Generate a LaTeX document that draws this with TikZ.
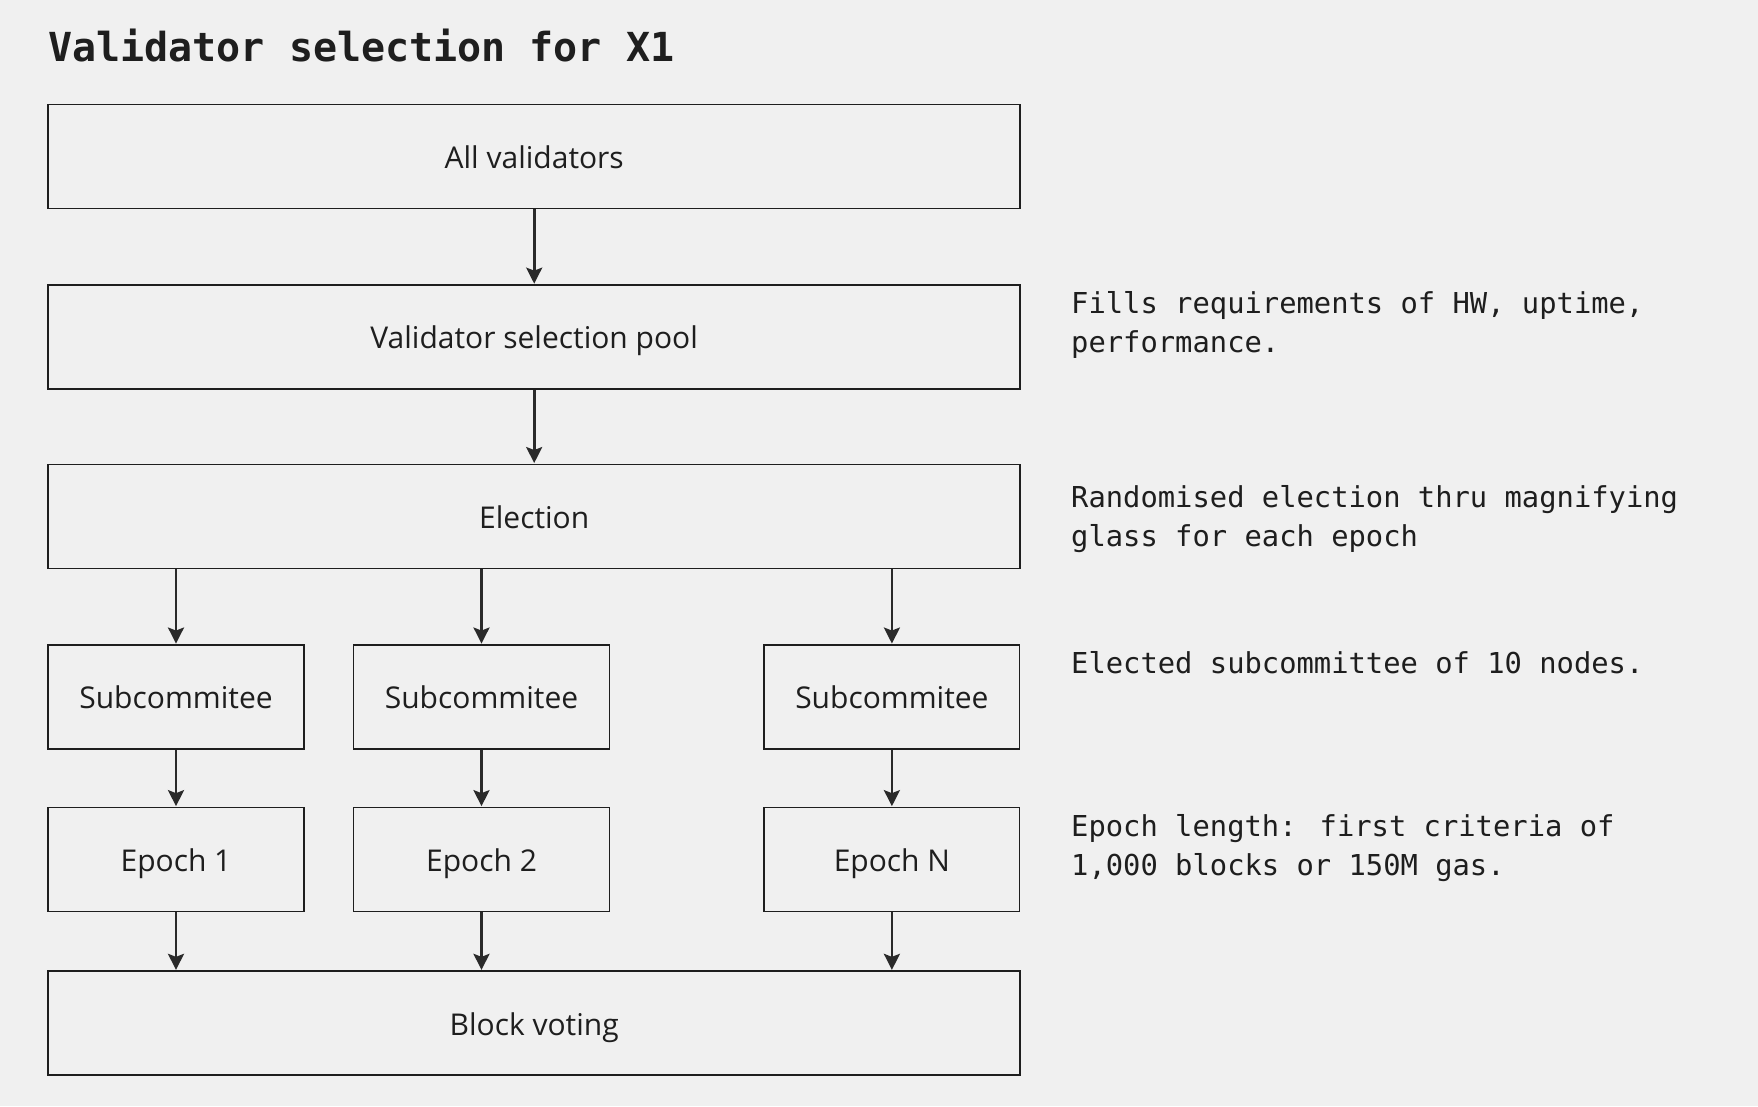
\documentclass[tikz,border=0pt]{standalone}
\usepackage{fontspec}
\setmainfont{Open Sans}
\newfontfamily\notefont{DejaVu Sans Mono}
\usetikzlibrary{arrows.meta}
\definecolor{bg}{HTML}{F0F0F0}
\definecolor{ink}{HTML}{1E1E1E}
\definecolor{arrowc}{HTML}{2A2A2A}
\tikzset{
  box/.style={draw=ink, line width=1.5pt, fill=bg, rectangle, inner sep=0pt,
    minimum height=104pt, text=ink, font=\fontsize{30}{36}\selectfont,
    text height=26pt, text depth=2pt},
  widebox/.style={box, minimum width=972pt},
  smallbox/.style={box, minimum width=255.6pt},
  arr/.style={draw=arrowc, line width=2.7pt, -{Stealth[length=16pt,width=16pt,inset=3pt]}, shorten >=0.5pt},
  note/.style={anchor=base west, inner sep=0pt, text=ink, font=\notefont\fontsize{28.8}{39}\selectfont},
  titlestyle/.style={anchor=base west, inner sep=0pt, text=ink, font=\notefont\bfseries\fontsize{40}{48}\selectfont}
}
\begin{document}
\begin{tikzpicture}[x=1pt,y=-1pt]
\useasboundingbox[fill=bg] (0,0) rectangle (1758,1106);
\node[titlestyle] (title) at (48,61.7) {Validator selection for X1};

\node[widebox] (all) at (534.2,156.4) {All validators};
\node[widebox] (pool) at (534.2,336.9) {Validator selection pool};
\node[widebox] (el) at (534.2,516.3) {Election};

\node[smallbox] (s1) at (176,696.8) {Subcommitee};
\node[smallbox] (s2) at (481.5,696.8) {Subcommitee};
\node[smallbox] (s3) at (891.9,696.8) {Subcommitee};

\node[smallbox] (e1) at (176,859.4) {Epoch 1};
\node[smallbox] (e2) at (481.5,859.4) {Epoch 2};
\node[smallbox] (e3) at (891.9,859.4) {Epoch N};

\node[widebox] (blk) at (534.2,1023.1) {Block voting};

\draw[arr] (all.south) -- (pool.north);
\draw[arr] (pool.south) -- (el.north);
\draw[arr] (s1 |- el.south) -- (s1.north);
\draw[arr] (s2 |- el.south) -- (s2.north);
\draw[arr] (s3 |- el.south) -- (s3.north);
\draw[arr] (s1.south) -- (e1.north);
\draw[arr] (s2.south) -- (e2.north);
\draw[arr] (s3.south) -- (e3.north);
\draw[arr] (e1.south) -- (e1 |- blk.north);
\draw[arr] (e2.south) -- (e2 |- blk.north);
\draw[arr] (e3.south) -- (e3 |- blk.north);

\node[note] (n1a) at (1071,313.3) {Fills requirements of HW, uptime,};
\node[note] (n1b) at (1071,352.3) {performance.};
\node[note] (n2a) at (1071,507) {Randomised election thru magnifying};
\node[note] (n2b) at (1071,546) {glass for each epoch};
\node[note] (n3) at (1071,673.3) {Elected subcommittee of 10 nodes.};
\node[note] (n4a) at (1071,836.7) {Epoch length: first criteria of};
\node[note] (n4b) at (1071,875.7) {1,000 blocks or 150M gas.};
\end{tikzpicture}
\end{document}
